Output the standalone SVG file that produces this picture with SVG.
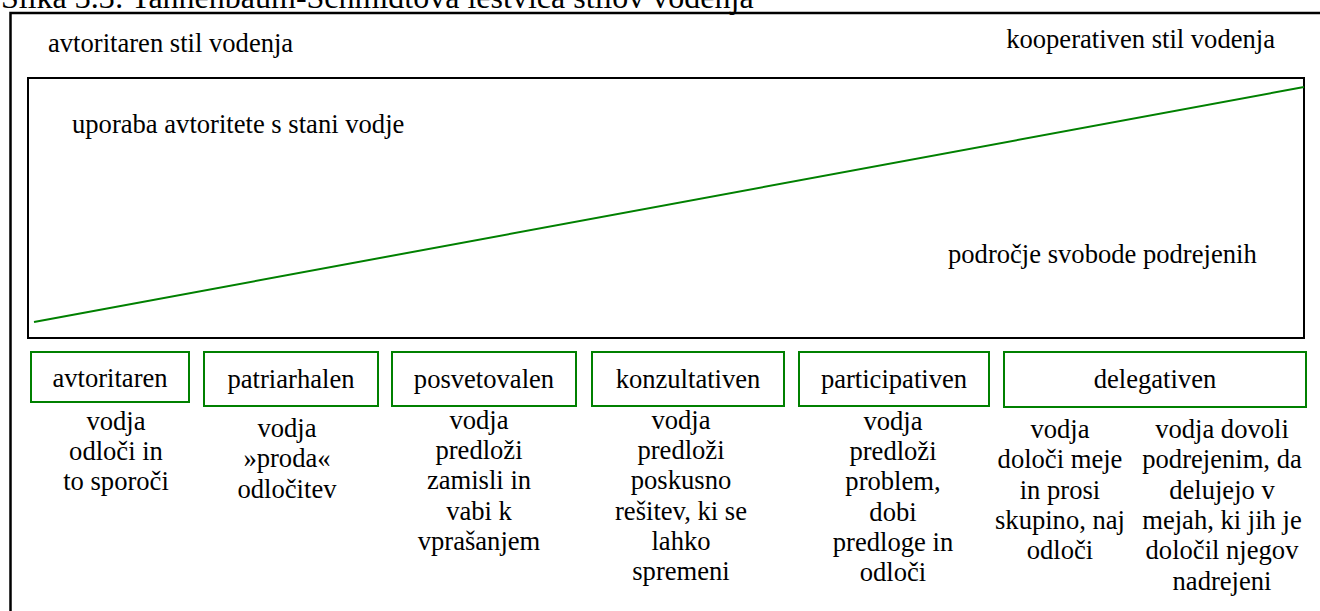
<svg xmlns="http://www.w3.org/2000/svg" width="1320" height="611" viewBox="0 0 1320 611">
  <style>
    text { font-family: "Liberation Serif", "Times New Roman", serif; fill: #000; }
    .caption { font-size: 32px; }
    .t { font-size: 26.6px; }
    .c { text-anchor: middle; }
    .frame { fill: none; stroke: #000; }
    .style-box { fill: #fff; stroke: #008000; stroke-width: 2; }
    .trend { stroke: #008000; stroke-width: 2; fill: none; }
  </style>
  <rect width="1320" height="611" fill="#fff"/>

  <!-- figure caption, clipped by the page top -->
  <text class="caption" x="1" y="8">Slika 3.3: Tannenbaum-Schmidtova lestvica stilov vodenja</text>

  <!-- outer frame (open to the right and bottom) -->
  <path class="frame" d="M10.5,611 V13 H1320" stroke-width="2.5"/>

  <!-- scale end labels -->
  <text class="t" x="48" y="52">avtoritaren stil vodenja</text>
  <text class="t" x="1275" y="48" text-anchor="end">kooperativen stil vodenja</text>

  <!-- authority / freedom area -->
  <g id="area">
    <rect class="frame" x="28" y="78" width="1276" height="260" stroke-width="2"/>
    <text class="t" x="72" y="133">uporaba avtoritete s stani vodje</text>
    <text class="t" x="948" y="263">področje svobode podrejenih</text>
  </g>

  <g id="connectors">
    <line class="trend" x1="34" y1="322" x2="1304" y2="87"/>
  </g>

  <g id="avtoritaren">
    <rect class="style-box" x="31" y="352" width="158" height="50"/>
    <text class="t c" x="110" y="387">avtoritaren</text>
    <text class="t c" x="116" y="430">vodja</text>
    <text class="t c" x="116" y="460">odloči in</text>
    <text class="t c" x="116" y="490">to sporoči</text>
  </g>

  <g id="patriarhalen">
    <rect class="style-box" x="204" y="352" width="174" height="54"/>
    <text class="t c" x="291" y="388">patriarhalen</text>
    <text class="t c" x="287" y="437">vodja</text>
    <text class="t c" x="287" y="467">»proda«</text>
    <text class="t c" x="287" y="498">odločitev</text>
  </g>

  <g id="posvetovalen">
    <rect class="style-box" x="392" y="352" width="184" height="54"/>
    <text class="t c" x="484" y="388">posvetovalen</text>
    <text class="t c" x="479" y="429">vodja</text>
    <text class="t c" x="479" y="459">predloži</text>
    <text class="t c" x="479" y="489">zamisli in</text>
    <text class="t c" x="479" y="520">vabi k</text>
    <text class="t c" x="479" y="550">vprašanjem</text>
  </g>

  <g id="konzultativen">
    <rect class="style-box" x="592" y="352" width="192" height="54"/>
    <text class="t c" x="688" y="388">konzultativen</text>
    <text class="t c" x="681" y="429">vodja</text>
    <text class="t c" x="681" y="459">predloži</text>
    <text class="t c" x="681" y="489">poskusno</text>
    <text class="t c" x="681" y="520">rešitev, ki se</text>
    <text class="t c" x="681" y="550">lahko</text>
    <text class="t c" x="681" y="580">spremeni</text>
  </g>

  <g id="participativen">
    <rect class="style-box" x="799" y="352" width="190" height="54"/>
    <text class="t c" x="894" y="388">participativen</text>
    <text class="t c" x="893" y="430">vodja</text>
    <text class="t c" x="893" y="460">predloži</text>
    <text class="t c" x="893" y="490">problem,</text>
    <text class="t c" x="893" y="521">dobi</text>
    <text class="t c" x="893" y="551">predloge in</text>
    <text class="t c" x="893" y="581">odloči</text>
  </g>

  <g id="delegativen">
    <rect class="style-box" x="1004" y="352" width="302" height="55"/>
    <text class="t c" x="1155" y="388">delegativen</text>
    <text class="t c" x="1060" y="438">vodja</text>
    <text class="t c" x="1060" y="468">določi meje</text>
    <text class="t c" x="1060" y="499">in prosi</text>
    <text class="t c" x="1060" y="529">skupino, naj</text>
    <text class="t c" x="1060" y="559">odloči</text>
    <text class="t c" x="1222" y="438">vodja dovoli</text>
    <text class="t c" x="1222" y="468">podrejenim, da</text>
    <text class="t c" x="1222" y="499">delujejo v</text>
    <text class="t c" x="1222" y="529">mejah, ki jih je</text>
    <text class="t c" x="1222" y="559">določil njegov</text>
    <text class="t c" x="1222" y="590">nadrejeni</text>
  </g>
</svg>
